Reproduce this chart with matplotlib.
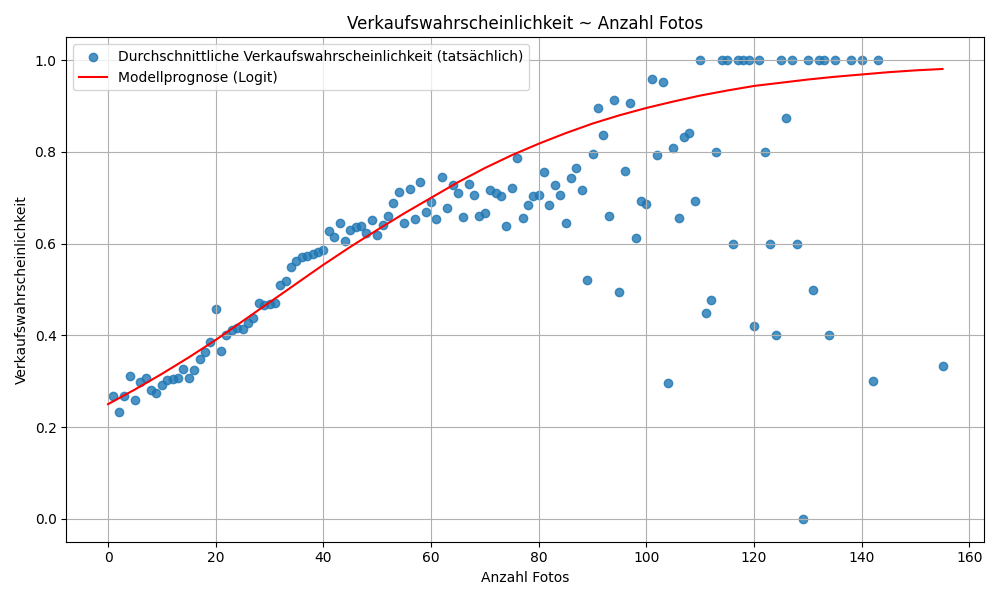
import matplotlib
matplotlib.use("Agg")
import matplotlib.pyplot as plt

foto_x = list(range(1, 136)) + [138, 140, 142, 143, 155]
wahrsch_y = [
    .267, .233, .267, .311, .259, .298, .306, .281, .274, .291,
    .303, .305, .308, .327, .307, .325, .349, .363, .385, .457,
    .366, .401, .412, .416, .414, .428, .437, .470, .466, .469,
    .471, .510, .519, .549, .563, .572, .574, .578, .582, .586,
    .628, .615, .645, .606, .630, .637, .639, .623, .652, .619,
    .640, .660, .689, .712, .645, .720, .654, .734, .669, .691,
    .654, .745, .678, .728, .711, .659, .730, .706, .661, .667,
    .717, .711, .704, .639, .722, .787, .656, .684, .704, .706,
    .757, .684, .728, .706, .645, .743, .765, .717, .520, .795,
    .896, .837, .661, .913, .494, .758, .907, .612, .693, .687,
    .959, .793, .953, .296, .809, .656, .833, .841, .693, 1.0,
    .449, .478, .800, 1.0, 1.0, .600, 1.0, 1.0, 1.0, .420,
    1.0, .800, .600, .400, 1.0, .875, 1.0, .600, 0.0, 1.0,
    .500, 1.0, 1.0, .400, 1.0,
    1.0, 1.0, .300, 1.0, .333,
]
kurve_x = [0, 5, 10, 15, 20, 25, 30, 35, 40, 45, 50, 55, 60, 65, 70, 75, 80,
           85, 90, 95, 100, 105, 110, 115, 120, 125, 130, 135, 140, 145, 150, 155]
kurve_y = [.250, .282, .316, .352, .390, .431, .472, .513, .554, .593, .630,
           .666, .700, .734, .765, .793, .818, .841, .862, .880, .896, .910,
           .923, .934, .944, .951, .958, .964, .969, .974, .978, .981]

fig, ax = plt.subplots(figsize=(10, 6), dpi=100)
ax.scatter(foto_x, wahrsch_y, alpha=0.8, color="C0",
           label="Durchschnittliche Verkaufswahrscheinlichkeit (tatsächlich)")
ax.plot(kurve_x, kurve_y, color="red", label="Modellprognose (Logit)")
ax.set_title("Verkaufswahrscheinlichkeit ~ Anzahl Fotos")
ax.set_xlabel("Anzahl Fotos")
ax.set_ylabel("Verkaufswahrscheinlichkeit")
ax.grid(True)
ax.legend(loc="upper left")
fig.tight_layout()
fig.savefig("out.png", dpi=100)
